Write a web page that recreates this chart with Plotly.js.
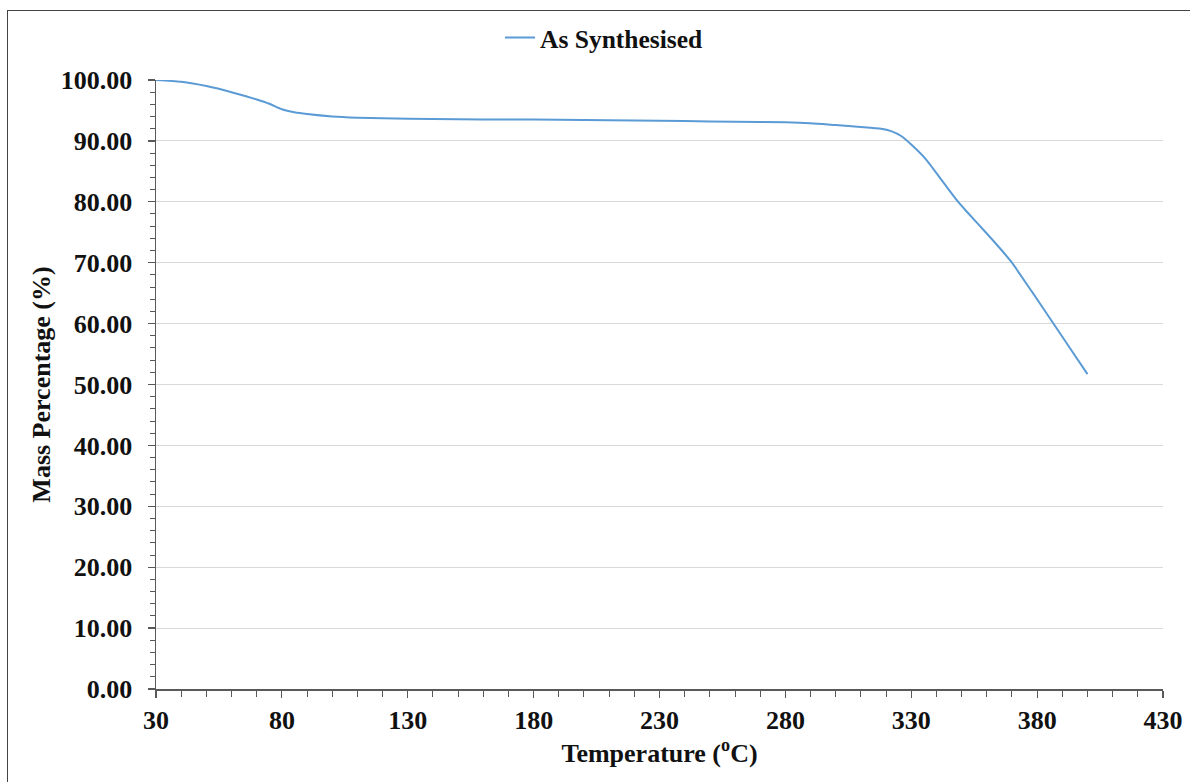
<!DOCTYPE html>
<html>
<head>
<meta charset="utf-8">
<script src="https://cdn.plot.ly/plotly-3.0.1.min.js"></script>
<style>
  html, body { margin: 0; padding: 0; background: #fff; }
  #chart { width: 1190px; height: 782px; position: absolute; left: 0; top: 0; }
  #frame { position: absolute; left: 7px; top: 10px; width: 1300px; height: 900px;
           border-left: 1.5px solid #444; border-top: 1.5px solid #444; pointer-events: none; }
</style>
</head>
<body>
<div id="chart"></div>
<div id="frame"></div>
<script>
const seriesName = "As Synthesised";
const temperature = [30, 40, 50, 60, 70, 75, 80, 85, 90, 100, 110, 120, 140, 160, 180, 200, 220, 240, 260, 280, 290, 300, 310, 318, 322, 326, 330, 336, 342, 348, 352, 360, 366, 370, 378, 386, 393, 400];
const massPercent = [100.0, 99.7, 99.0, 98.0, 96.8, 96.1, 95.2, 94.7, 94.4, 94.0, 93.8, 93.7, 93.6, 93.5, 93.5, 93.45, 93.35, 93.25, 93.15, 93.05, 92.9, 92.6, 92.3, 92.0, 91.6, 90.8, 89.4, 86.9, 83.6, 80.3, 78.4, 74.8, 72.0, 70.0, 65.2, 60.3, 56.0, 51.7];
const xTitle = "Temperature (<sup>o</sup>C)";
const yTitle = "Mass Percentage (%)";

const fontFam = "Liberation Serif, Times New Roman, serif";

const trace = {
  x: temperature,
  y: massPercent,
  type: "scatter",
  mode: "lines",
  name: seriesName,
  line: { color: "#5b9bd5", width: 2, shape: "spline", smoothing: 0.6 }
};

const layout = {
  width: 1190,
  height: 782,
  margin: { l: 156, r: 27, t: 80, b: 93 },
  paper_bgcolor: "#fff",
  plot_bgcolor: "#fff",
  font: { family: fontFam, color: "#111", size: 26 },
  showlegend: true,
  legend: {
    x: 0.3416, y: 1.069, xanchor: "left", yanchor: "middle",
    orientation: "h",
    font: { family: fontFam, size: 25.5, color: "#111", weight: "bold" },
    bgcolor: "rgba(0,0,0,0)"
  },
  xaxis: {
    range: [30, 430],
    tick0: 30, dtick: 50,
    showgrid: false,
    zeroline: false,
    showline: true, linecolor: "#595959", linewidth: 1.5,
    ticks: "outside", ticklen: 7, tickwidth: 1.2, tickcolor: "#595959",
    minor: { dtick: 10, tick0: 30, ticks: "outside", ticklen: 6, tickwidth: 1, tickcolor: "#595959", showgrid: false },
    tickfont: { family: fontFam, size: 26, color: "#111", weight: "bold" },
    ticklabelstandoff: 0,
    title: { text: xTitle, font: { family: fontFam, size: 26, color: "#111", weight: "bold" }, standoff: 8 },
    fixedrange: true
  },
  yaxis: {
    range: [0, 100],
    tick0: 0, dtick: 10,
    tickformat: ".2f",
    showgrid: true, gridcolor: "#d9d9d9", gridwidth: 1,
    zeroline: false,
    showline: true, linecolor: "#595959", linewidth: 1.5,
    ticks: "outside", ticklen: 7, tickwidth: 1.2, tickcolor: "#595959",
    minor: { dtick: 2, ticks: "outside", ticklen: 5, tickwidth: 1, tickcolor: "#595959", showgrid: false },
    tickfont: { family: fontFam, size: 26, color: "#111", weight: "bold" },
    ticklabelstandoff: 10,
    title: { text: yTitle, font: { family: fontFam, size: 26, color: "#111", weight: "bold" }, standoff: 2 },
    fixedrange: true
  }
};

Plotly.newPlot("chart", [trace], layout, { displayModeBar: false, staticPlot: true });
</script>
</body>
</html>
